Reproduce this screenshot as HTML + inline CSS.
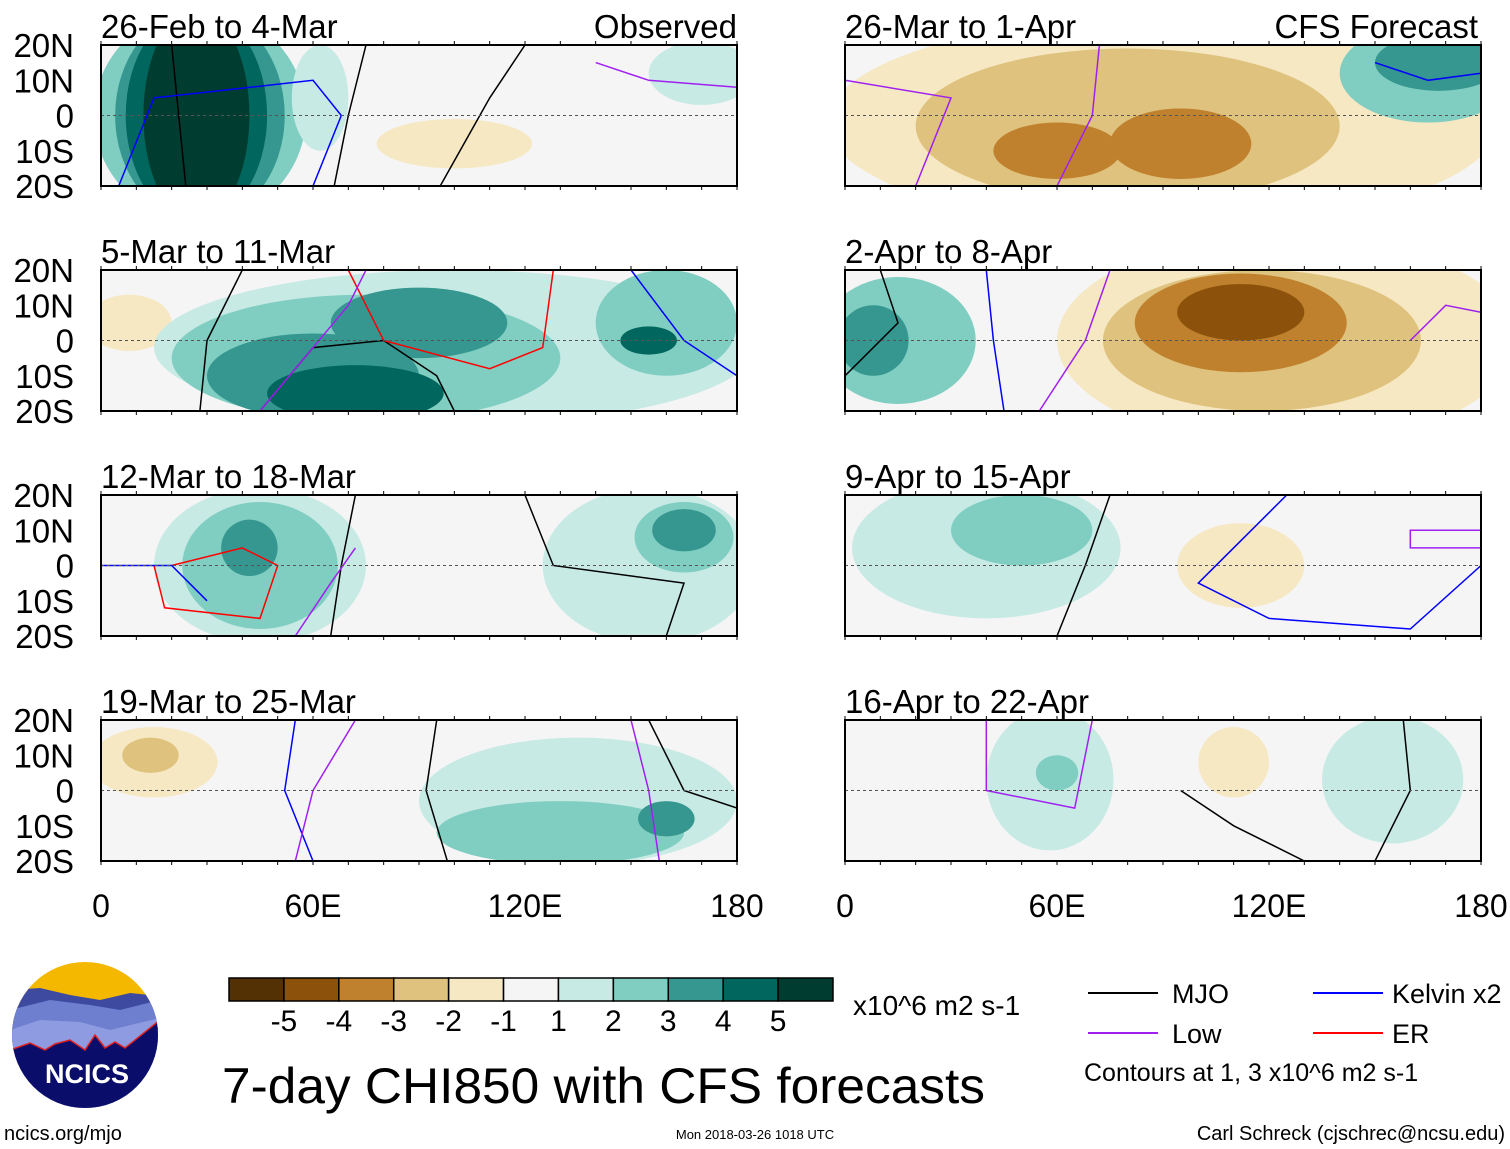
<!DOCTYPE html>
<html><head><meta charset="utf-8"><style>
body{margin:0;background:#fff;}
svg{display:block;font-family:"Liberation Sans",sans-serif;}
</style></head><body>
<svg id="fig" width="1510" height="1149" viewBox="0 0 1510 1149">
<defs id="defs"></defs>
<g id="panels"></g>
<g id="static">
  <g>
    <clipPath id="logoclip"><circle cx="85" cy="1035" r="73"/></clipPath>
    <g clip-path="url(#logoclip)">
      <rect x="10" y="960" width="150" height="150" fill="#f5b800"/>
      <path d="M10 990 L40 988 L70 995 L100 1000 L130 993 L160 996 L160 1110 L10 1110Z" fill="#3d4aa0"/>
      <path d="M10 1010 L50 1000 L90 1005 L120 1010 L160 1000 L160 1110 L10 1110Z" fill="#6f7fd0"/>
      <path d="M10 1030 L40 1020 L80 1022 L110 1030 L160 1018 L160 1110 L10 1110Z" fill="#8e9be0"/>
      <path d="M10 1050 L30 1043 L45 1050 L55 1044 L70 1040 L85 1050 L95 1035 L105 1048 L115 1042 L125 1048 L160 1020 L160 1110 L10 1110Z" fill="#0a0e6a" stroke="#e02020" stroke-width="1.5"/>
    </g>
    <text x="87" y="1083" font-size="27" font-weight="bold" fill="#fff" text-anchor="middle">NCICS</text>
  </g>
  <text x="4" y="1140" font-size="20">ncics.org/mjo</text>
  <text x="222" y="1103" font-size="50" textLength="763" lengthAdjust="spacingAndGlyphs">7-day CHI850 with CFS forecasts</text>
  <text x="755" y="1139" font-size="13" text-anchor="middle">Mon 2018-03-26 1018 UTC</text>
  <text x="1505" y="1140" font-size="20" text-anchor="end">Carl Schreck (cjschrec@ncsu.edu)</text>
  <text x="853" y="1015" font-size="28">x10^6 m2 s-1</text>
  <g>
    <line x1="1088" y1="993" x2="1158" y2="993" stroke="#000" stroke-width="2"/>
    <text x="1172" y="1003" font-size="27">MJO</text>
    <line x1="1088" y1="1033" x2="1158" y2="1033" stroke="#a020f0" stroke-width="2"/>
    <text x="1172" y="1043" font-size="27">Low</text>
    <line x1="1313" y1="993" x2="1383" y2="993" stroke="#0000ff" stroke-width="2"/>
    <text x="1392" y="1003" font-size="27">Kelvin x2</text>
    <line x1="1313" y1="1033" x2="1383" y2="1033" stroke="#ff0000" stroke-width="2"/>
    <text x="1392" y="1043" font-size="27">ER</text>
    <text x="1084" y="1081" font-size="25">Contours at 1, 3 x10^6 m2 s-1</text>
  </g>
</g>
<g id="colorbar"></g>
</svg>
<script>
const NS="http://www.w3.org/2000/svg";
const levelColors=["#543005","#8c510a","#bf812d","#dfc27d","#f6e8c3","#f5f5f5","#c7eae5","#80cdc1","#35978f","#01665e","#003c30"];
const cbLabels=["-5","-4","-3","-2","-1","1","2","3","4","5"];
const panelTitles=["26-Feb to 4-Mar","5-Mar to 11-Mar","12-Mar to 18-Mar","19-Mar to 25-Mar","26-Mar to 1-Apr","2-Apr to 8-Apr","9-Apr to 15-Apr","16-Apr to 22-Apr"];
const latTicks=[20,10,0,-10,-20];
const latLabels=["20N","10N","0","10S","20S"];
const lonTicks=[0,60,120,180];
const lonLabels=["0","60E","120E","180"];
// blobs: [lonCenter, latCenter, lonHalfWidth, latHalfHeight, level index]
const blobs0=[[28,0,30,30,7],[28,0,24,30,8],[27,0,20,30,9],[27,0,15,30,10],[62,5,8,15,6],[100,-8,22,7,4],[170,12,15,9,6]];
const blobs1=[[8,5,12,8,4],[100,-2,85,22,6],[75,-5,55,18,7],[60,-10,30,12,8],[90,5,25,10,8],[72,-15,25,8,9],[160,5,20,15,7],[155,0,8,4,9]];
const blobs2=[[45,0,30,22,6],[45,0,22,18,7],[42,5,8,8,8],[155,0,30,22,6],[165,8,14,10,7],[165,10,9,6,8]];
const blobs3=[[15,8,18,10,4],[14,10,8,5,3],[135,-3,45,18,6],[130,-12,35,9,7],[160,-8,8,5,8]];
const blobs4=[[90,-2,95,30,4],[80,-3,60,22,3],[60,-10,18,8,2],[95,-8,20,10,2],[165,12,25,14,7],[168,15,18,8,8]];
const blobs5=[[125,0,65,30,4],[118,0,45,20,3],[112,5,30,14,2],[112,8,18,8,1],[15,0,22,18,7],[8,0,10,10,8]];
const blobs6=[[40,5,38,20,6],[50,10,20,10,7],[112,0,18,12,4]];
const blobs7=[[58,3,18,20,6],[60,5,6,5,7],[155,3,20,18,6],[110,8,10,10,4]];
const panelBlobs=[blobs0,blobs1,blobs2,blobs3,blobs4,blobs5,blobs6,blobs7];
// contour lines: [colour, [[lon,lat],...]]
const lines0=[["#000",[[20,20],[22,0],[24,-20]]],["#000",[[75,20],[70,0],[66,-20]]],["#000",[[120,20],[110,5],[96,-20]]],["#00f",[[5,-20],[15,5],[60,10],[68,0],[60,-20]]],["#a020f0",[[140,15],[155,10],[180,8]]]];
const lines1=[["#000",[[40,20],[30,0],[28,-20]]],["#000",[[45,-20],[60,-2],[80,0],[95,-10],[100,-20]]],["#f00",[[70,20],[80,0],[110,-8],[125,-2],[128,20]]],["#00f",[[150,20],[165,0],[180,-10]]],["#a020f0",[[45,-20],[70,10],[75,20]]]];
const lines2=[["#000",[[72,20],[68,0],[65,-20]]],["#000",[[120,20],[128,0],[165,-5],[160,-20]]],["#f00",[[20,0],[40,5],[50,0],[45,-15],[18,-12],[15,0]]],["#a020f0",[[55,-20],[65,-5],[72,5]]],["#00f",[[0,0],[20,0],[30,-10]]]];
const lines3=[["#000",[[95,20],[92,0],[98,-20]]],["#000",[[155,20],[165,0],[180,-5]]],["#00f",[[55,20],[52,0],[60,-20]]],["#a020f0",[[72,20],[60,0],[55,-20]]],["#a020f0",[[150,20],[155,0],[158,-20]]]];
const lines4=[["#a020f0",[[72,20],[70,0],[60,-20]]],["#a020f0",[[0,10],[30,5],[20,-20]]],["#00f",[[150,15],[165,10],[180,12]]]];
const lines5=[["#000",[[10,20],[15,5],[0,-10]]],["#00f",[[40,20],[42,0],[45,-20]]],["#a020f0",[[75,20],[68,0],[55,-20]]],["#a020f0",[[160,0],[170,10],[180,8]]]];
const lines6=[["#000",[[75,20],[68,0],[60,-20]]],["#00f",[[125,20],[100,-5],[120,-15],[160,-18],[180,0]]],["#a020f0",[[180,10],[160,10],[160,5],[180,5]]]];
const lines7=[["#000",[[158,20],[160,0],[150,-20]]],["#000",[[95,0],[110,-10],[130,-20]]],["#a020f0",[[40,20],[40,0],[65,-5],[70,20]]]];
const panelLines=[lines0,lines1,lines2,lines3,lines4,lines5,lines6,lines7];
const colX=[101,845], rowY=[45,270,495,720], PW=636, PH=141;
function lonX(x0,lon){return x0+lon/180*PW;}
function latY(y0,lat){return y0+(20-lat)/40*PH;}
const panels=document.getElementById('panels'), defs=document.getElementById('defs');
function mk(t,a){const e=document.createElementNS(NS,t);for(const k in a)e.setAttribute(k,a[k]);return e;}
for(let p=0;p<8;p++){
  const x0=colX[Math.floor(p/4)], y0=rowY[p%4];
  const g=mk('g',{});
  
  
  const cp=mk('clipPath',{id:'cp'+p});cp.appendChild(mk('rect',{x:x0,y:y0,width:PW,height:PH}));defs.appendChild(cp);
  g.appendChild(mk('rect',{x:x0,y:y0,width:PW,height:PH,fill:'#f5f5f5'}));
  const bg=mk('g',{'clip-path':'url(#cp'+p+')'});
  panelBlobs[p].forEach(b=>{
    const e=mk('ellipse',{cx:lonX(x0,b[0]),cy:latY(y0,b[1]),rx:b[2]/180*PW,ry:b[3]/40*PH,fill:levelColors[b[4]]});
    
    
    bg.appendChild(e);
  });
  panelLines[p].forEach(l=>{
    const pts=l[1].map(q=>lonX(x0,q[0]).toFixed(1)+','+latY(y0,q[1]).toFixed(1)).join(' ');
    const e=mk('polyline',{points:pts,fill:'none',stroke:l[0],'stroke-width':1.5});
    
    
    bg.appendChild(e);
  });
  g.appendChild(bg);
  g.appendChild(mk('line',{x1:x0,y1:latY(y0,0),x2:x0+PW,y2:latY(y0,0),stroke:'#555','stroke-dasharray':'3,3','stroke-width':1}));
  g.appendChild(mk('rect',{x:x0,y:y0,width:PW,height:PH,fill:'none',stroke:'#000','stroke-width':2}));
  for(let l=0;l<=180;l+=10){const x=lonX(x0,l);g.appendChild(mk('line',{x1:x,y1:y0-4,x2:x,y2:y0,stroke:'#000'}));g.appendChild(mk('line',{x1:x,y1:y0+PH,x2:x,y2:y0+PH+4,stroke:'#000'}));}
  const t=mk('text',{x:x0,y:y0-7,'font-size':33});t.textContent=panelTitles[p];
  
  
  g.appendChild(t);
  if(p<4){latTicks.forEach((la,i)=>{const tt=mk('text',{x:74,y:latY(y0,la)+12,'font-size':33,'text-anchor':'end'});tt.textContent=latLabels[i];
    
    
    g.appendChild(tt);});}
  panels.appendChild(g);
}
const o=mk('text',{x:737,y:38,'font-size':33,'text-anchor':'end'});o.textContent='Observed';


panels.appendChild(o);
const f=mk('text',{x:1478,y:38,'font-size':33,'text-anchor':'end'});f.textContent='CFS Forecast';


panels.appendChild(f);
colX.forEach(x0=>lonTicks.forEach((l,i)=>{const t=mk('text',{x:lonX(x0,l),y:917,'font-size':32,'text-anchor':'middle'});t.textContent=lonLabels[i];
  
  
  panels.appendChild(t);}));
const cb=document.getElementById('colorbar');const bw=(833-229)/11;
levelColors.forEach((c,i)=>{const r=mk('rect',{x:229+i*bw,y:978,width:bw,height:23,fill:c,stroke:'#000','stroke-width':1.5});
  
  
  cb.appendChild(r);});
cbLabels.forEach((s,i)=>{const t=mk('text',{x:229+(i+1)*bw,y:1031,'font-size':30,'text-anchor':'middle'});t.textContent=s;
  
  
  cb.appendChild(t);});
</script>
</body></html>
